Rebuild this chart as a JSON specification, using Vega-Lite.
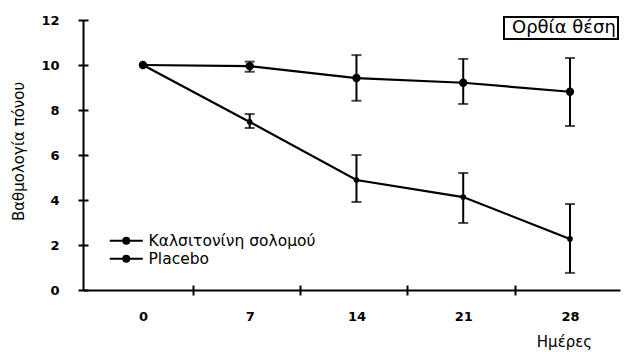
{
  "$schema": "https://vega.github.io/schema/vega-lite/v6.json",
  "autosize": "none",
  "width": 537,
  "height": 270,
  "padding": {"left": 83, "top": 20, "right": 4, "bottom": 62},
  "background": "white",
  "config": {
    "view": {"stroke": null},
    "font": "DejaVu Sans",
    "legend": {"strokeWidth": 2}
  },
  "data": {
    "values": [
      {"day": 0, "series": "Καλσιτονίνη σολομού", "mean": 10, "lo": null, "hi": null},
      {"day": 7, "series": "Καλσιτονίνη σολομού", "mean": 7.47, "lo": 7.2, "hi": 7.82},
      {"day": 14, "series": "Καλσιτονίνη σολομού", "mean": 4.89, "lo": 3.91, "hi": 6.0},
      {"day": 21, "series": "Καλσιτονίνη σολομού", "mean": 4.13, "lo": 2.98, "hi": 5.2},
      {"day": 28, "series": "Καλσιτονίνη σολομού", "mean": 2.27, "lo": 0.76, "hi": 3.82},
      {"day": 0, "series": "Placebo", "mean": 10, "lo": null, "hi": null},
      {"day": 7, "series": "Placebo", "mean": 9.95, "lo": 9.7, "hi": 10.15},
      {"day": 14, "series": "Placebo", "mean": 9.42, "lo": 8.41, "hi": 10.44},
      {"day": 21, "series": "Placebo", "mean": 9.21, "lo": 8.27, "hi": 10.27},
      {"day": 28, "series": "Placebo", "mean": 8.81, "lo": 7.29, "hi": 10.31}
    ]
  },
  "resolve": {"axis": {"x": "independent", "y": "independent"}},
  "layer": [
    {
      "mark": {"type": "line", "strokeWidth": 2.2},
      "encoding": {
        "x": {
          "field": "day", "type": "quantitative",
          "scale": {"domain": [-3.93, 31.28], "nice": false, "zero": false},
          "axis": {
            "orient": "bottom",
            "values": [0, 7, 14, 21, 28],
            "ticks": false, "domain": false, "grid": false,
            "labelFont": "DejaVu Sans", "labelFontWeight": "bold", "labelFontSize": 13,
            "labelColor": "black", "labelPadding": 20,
            "title": "Ημέρες", "titleFont": "DejaVu Sans", "titleFontSize": 15,
            "titleFontWeight": "normal", "titleColor": "black",
            "titleX": 481, "titleY": 51, "titleAlign": "center", "titleBaseline": "middle"
          }
        },
        "y": {
          "field": "mean", "type": "quantitative",
          "scale": {"domain": [0, 12], "nice": false},
          "axis": {
            "orient": "left",
            "values": [0, 2, 4, 6, 8, 10, 12],
            "grid": false, "domainColor": "black", "domainWidth": 2,
            "tickColor": "black", "tickWidth": 2, "tickSize": 5,
            "labelFont": "DejaVu Sans", "labelFontWeight": "bold", "labelFontSize": 13,
            "labelColor": "black", "labelPadding": 19,
            "title": "Βαθμολογία πόνου", "titleFont": "DejaVu Sans", "titleFontSize": 15,
            "titleFontWeight": "normal", "titleColor": "black",
            "titleX": -65, "titleY": 131, "titleAlign": "center", "titleBaseline": "middle", "titleAngle": -90
          }
        },
        "color": {
          "field": "series", "type": "nominal",
          "scale": {"domain": ["Καλσιτονίνη σολομού", "Placebo"], "range": ["black", "black"]},
          "legend": {
            "title": null, "orient": "none", "legendX": 24, "legendY": 213,
            "symbolType": "M-1,0H5.6M2.9,0A0.6,0.6,0,1,1,1.7,0A0.6,0.6,0,1,1,2.9,0Z",
            "symbolSize": 100, "symbolFillColor": "black", "symbolStrokeColor": "black",
            "symbolStrokeWidth": 2, "labelFontSize": 15.5, "labelFont": "DejaVu Sans",
            "labelColor": "black", "labelOffset": 26, "rowPadding": 1, "labelLimit": 400
          }
        },
        "detail": {"field": "series"}
      }
    },
    {
      "mark": {"type": "point", "filled": true, "opacity": 1, "color": "black"},
      "encoding": {
        "x": {
          "field": "day", "type": "quantitative",
          "axis": {
            "orient": "bottom",
            "values": [3.3, 10.3, 17.3, 24.4],
            "labels": false, "grid": false, "title": null,
            "domainColor": "black", "domainWidth": 2,
            "tickColor": "black", "tickWidth": 2, "tickSize": 5
          }
        },
        "y": {
          "field": "mean", "type": "quantitative",
          "axis": {
            "orient": "left",
            "values": [0, 2, 4, 6, 8, 10, 12],
            "labels": false, "grid": false, "title": null, "domain": false,
            "tickColor": "black", "tickWidth": 2, "tickSize": -5
          }
        },
        "size": {
          "condition": {"test": "datum.series == 'Placebo'", "value": 70},
          "value": 32
        },
        "shape": {
          "datum": "Ορθία θέση",
          "scale": {"range": ["circle"]},
          "legend": {
            "title": null, "orient": "none", "legendX": 421, "legendY": -3,
            "strokeColor": "black", "padding": 2,
            "symbolSize": 0.1, "symbolStrokeWidth": 0, "symbolOpacity": 0, "labelOffset": -12,
            "labelFontSize": 18, "labelFont": "DejaVu Sans", "labelColor": "black"
          }
        }
      }
    },
    {
      "transform": [{"filter": "datum.lo != null"}],
      "mark": {"type": "errorbar", "color": "black", "thickness": 2, "ticks": {"size": 10, "thickness": 2}},
      "encoding": {
        "x": {
          "field": "day", "type": "quantitative",
          "axis": {
            "orient": "bottom",
            "values": [3.3, 10.3, 17.3, 24.4],
            "labels": false, "grid": false, "title": null, "domain": false,
            "tickColor": "black", "tickWidth": 2, "tickSize": -5
          }
        },
        "y": {"field": "lo", "type": "quantitative", "axis": null},
        "y2": {"field": "hi"}
      }
    }
  ]
}
